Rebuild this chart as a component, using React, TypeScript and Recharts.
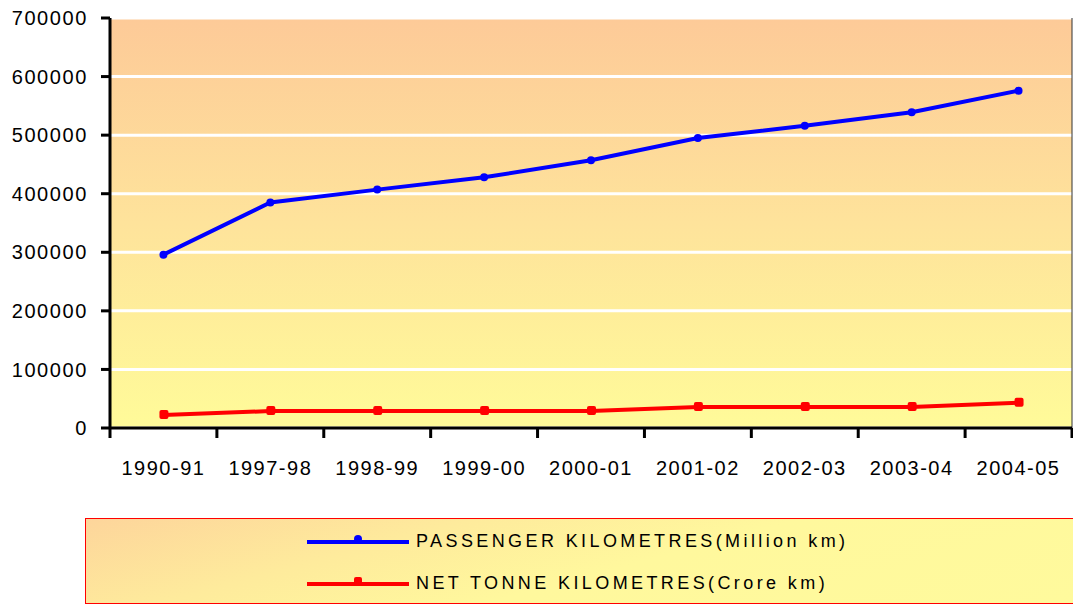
import React from "react";
import {
  LineChart,
  Line,
  XAxis,
  YAxis,
  CartesianGrid,
  Legend,
  ReferenceLine,
} from "recharts";

// chart values
const years = [
  "1990-91",
  "1997-98",
  "1998-99",
  "1999-00",
  "2000-01",
  "2001-02",
  "2002-03",
  "2003-04",
  "2004-05",
];
const passengerKm = [296000, 385000, 407000, 428000, 457000, 495000, 516000, 539000, 576000];
const netTonneKm = [22000, 29000, 29000, 29000, 29000, 36000, 36000, 36000, 43000];
const yTicks = [0, 100000, 200000, 300000, 400000, 500000, 600000, 700000];
const xBounds = [0, 1, 2, 3, 4, 5, 6, 7, 8, 9];

const chartData = years.map((year, i) => ({
  pos: i + 0.5,
  year,
  passenger: passengerKm[i],
  tonne: netTonneKm[i],
}));

const PLOT_W = 962;
const FONT = '"Liberation Sans", Arial, sans-serif';

function BoundaryTick(props: any) {
  const { x, y, payload } = props;
  const idx = payload.value;
  if (idx >= years.length) return null;
  const half = PLOT_W / years.length / 2;
  return (
    <text
      x={x + half}
      y={y}
      dy="0.71em"
      textAnchor="middle"
      fontSize={20}
      letterSpacing={1.5}
      fontFamily={FONT}
      fill="#000"
    >
      {years[idx]}
    </text>
  );
}

function SquareDot(props: any) {
  const { cx, cy } = props;
  if (cx == null || cy == null) return null;
  return <rect x={cx - 4} y={cy - 5} width={9} height={9} rx={2} fill="#ff0000" />;
}

function LegendBox() {
  const row = (color: string, label: string, square: boolean) => (
    <div style={{ display: "flex", alignItems: "center", height: 42 }}>
      <svg width={111} height={14}>
        <line x1={2} y1={8} x2={104} y2={8} stroke={color} strokeWidth={4} />
        {square ? (
          <rect x={49} y={1} width={8} height={9} rx={2} fill={color} />
        ) : (
          <circle cx={53} cy={5} r={4} fill={color} />
        )}
      </svg>
      <span
        style={{
          fontFamily: '"Liberation Sans Narrow", "Arial Narrow", sans-serif',
          fontSize: 18,
          letterSpacing: 3.4,
          color: "#000",
          whiteSpace: "nowrap",
        }}
      >
        {label}
      </span>
    </div>
  );
  return (
    <div
      style={{
        width: 990,
        height: 86,
        boxSizing: "border-box",
        border: "1px solid #ff0000",
        background: "linear-gradient(165deg, #fdd59b 0%, #feeb9c 30%, #fff89d 55%, #fffa9c 100%)",
        paddingLeft: 219,
        paddingTop: 1,
      }}
    >
      {row("#0000ff", "PASSENGER KILOMETRES(Million km)", false)}
      {row("#ff0000", "NET TONNE KILOMETRES(Crore km)", true)}
    </div>
  );
}

export default function App() {
  return (
    <div style={{ position: "absolute", left: 0, top: 0, width: 1073, height: 604, background: "#fff" }}>
      <LineChart
        width={1073}
        height={604}
        data={chartData}
        margin={{ top: 18, right: 1, left: 0, bottom: 50 }}
      >
        <defs>
          <linearGradient id="plotBg" x1="0" y1="0" x2="0" y2="1">
            <stop offset="0%" stopColor="#fdca98" />
            <stop offset="50%" stopColor="#fee39b" />
            <stop offset="100%" stopColor="#fffb99" />
          </linearGradient>
        </defs>
        <CartesianGrid
          vertical={false}
          stroke="#ffffff"
          strokeWidth={3}
          fill="url(#plotBg)"
          fillOpacity={1}
        />
        <XAxis
          type="number"
          dataKey="pos"
          domain={[0, 9]}
          ticks={xBounds}
          interval={0}
          height={40}
          tick={<BoundaryTick />}
          tickSize={10}
          tickMargin={23}
          axisLine={{ stroke: "#000", strokeWidth: 3 }}
          tickLine={{ stroke: "#000", strokeWidth: 3 }}
        />
        <YAxis
          domain={[0, 700000]}
          ticks={yTicks}
          interval={0}
          width={110}
          tickSize={9}
          tickMargin={13}
          tick={{ fontSize: 20, fill: "#000", fontFamily: FONT, letterSpacing: 1.6 }}
          axisLine={{ stroke: "#000", strokeWidth: 3 }}
          tickLine={{ stroke: "#000", strokeWidth: 3 }}
        />
        <ReferenceLine x={9} stroke="#333" strokeWidth={1} />
        <Line
          type="linear"
          dataKey="passenger"
          stroke="#0000ff"
          strokeWidth={4}
          dot={{ r: 4, fill: "#0000ff", stroke: "#0000ff", strokeWidth: 0 }}
          isAnimationActive={false}
        />
        <Line
          type="linear"
          dataKey="tonne"
          stroke="#ff0000"
          strokeWidth={4}
          dot={<SquareDot />}
          isAnimationActive={false}
        />
        <Legend
          content={<LegendBox />}
          wrapperStyle={{ position: "absolute", left: 85, top: 518, width: 990, height: 86 }}
        />
      </LineChart>
    </div>
  );
}
